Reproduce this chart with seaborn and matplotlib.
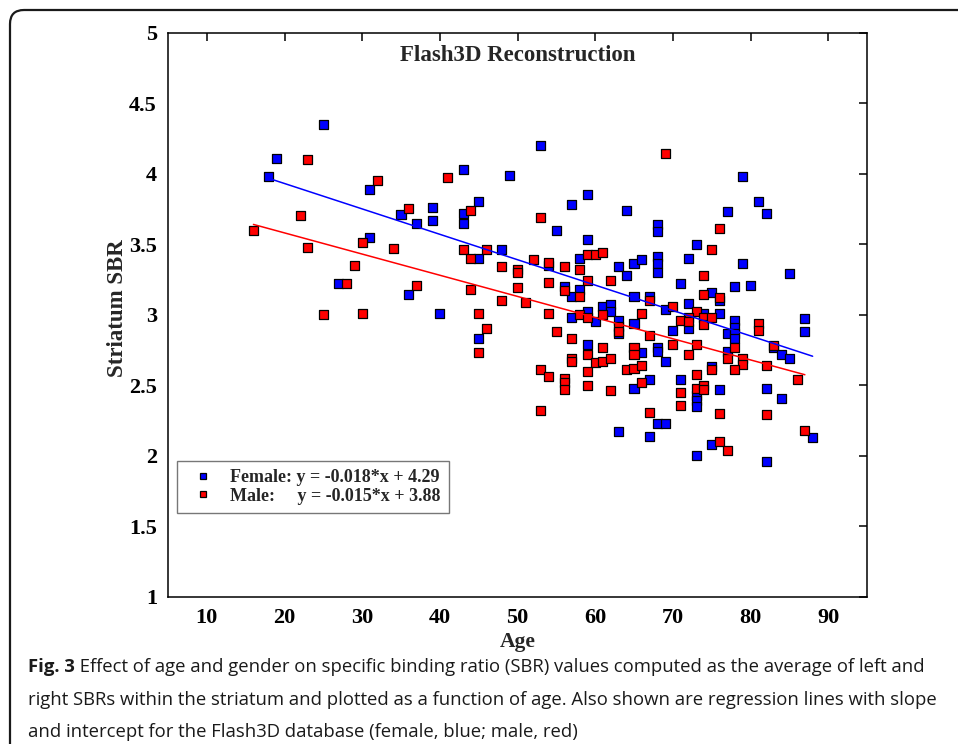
import matplotlib
matplotlib.use("Agg")
import matplotlib.pyplot as plt
from matplotlib.patches import FancyBboxPatch
from matplotlib.transforms import IdentityTransform
import seaborn as sns
import pandas as pd
import numpy as np

# datos (edad, SBR estriado)
female_age = [25, 19, 18, 31, 35, 37, 31, 27, 36,
              53, 43, 49, 59, 39, 45, 57, 64, 39, 43, 43, 55, 59, 48, 45, 54, 58, 63, 65, 64, 66,
              56, 58, 57, 65, 40, 57, 59, 60, 61, 62, 62, 63, 63, 65, 45, 59, 65, 63,
              79, 81, 77, 82, 68, 68, 73, 72, 68, 68, 68, 79, 71, 78, 80, 85, 67, 75, 76, 69, 72, 72,
              74, 76, 78, 78, 77, 78, 78, 87, 87, 70, 68, 68, 66, 69, 77, 83, 84, 85, 75, 67, 71,
              73, 73, 73, 76, 82, 84, 68, 69, 67, 88, 75, 73, 82]
female_sbr = [4.35, 4.11, 3.98, 3.89, 3.71, 3.65, 3.55, 3.22, 3.14,
              4.20, 4.03, 3.99, 3.85, 3.76, 3.80, 3.78, 3.74, 3.67, 3.72, 3.65, 3.60, 3.53, 3.46, 3.40, 3.35, 3.40, 3.34, 3.36, 3.28, 3.39,
              3.20, 3.18, 3.13, 3.13, 3.01, 2.98, 3.02, 2.95, 3.06, 3.07, 3.02, 2.96, 2.87, 2.94, 2.83, 2.79, 2.48, 2.17,
              3.98, 3.80, 3.73, 3.72, 3.64, 3.59, 3.50, 3.40, 3.41, 3.36, 3.30, 3.36, 3.22, 3.20, 3.21, 3.29, 3.13, 3.16, 3.10, 3.04, 3.08, 2.90,
              3.01, 3.01, 2.96, 2.91, 2.87, 2.87, 2.83, 2.97, 2.88, 2.89, 2.77, 2.74, 2.73, 2.67, 2.74, 2.77, 2.72, 2.69, 2.63, 2.54, 2.54,
              2.43, 2.39, 2.35, 2.47, 2.48, 2.41, 2.23, 2.23, 2.14, 2.13, 2.08, 2.00, 1.96]

male_age = [23, 32, 22, 36, 16, 30, 23, 34, 29, 28, 37, 25, 30,
            41, 44, 53, 43, 46, 44, 52, 54, 56, 58, 59, 60, 61, 48, 50, 50, 44, 50, 54, 59, 62, 56, 58,
            48, 51, 45, 54, 58, 59, 61, 63, 63, 46, 45, 55, 57, 61, 59, 57, 57, 60, 61, 62, 65, 65, 64, 65,
            53, 54, 56, 56, 56, 59, 59, 62, 53,
            69, 76, 75, 74, 67, 74, 76, 70, 66, 73, 72, 71, 72, 74, 74, 75, 81, 81, 67, 70, 73, 72, 78,
            77, 79, 79, 83, 82, 86, 75, 78, 66, 73, 66, 73, 74, 74, 71, 71, 67, 76, 82, 87, 76, 77]
male_sbr = [4.10, 3.95, 3.70, 3.75, 3.60, 3.51, 3.48, 3.47, 3.35, 3.22, 3.21, 3.00, 3.01,
            3.97, 3.74, 3.69, 3.46, 3.46, 3.40, 3.39, 3.37, 3.34, 3.32, 3.43, 3.43, 3.44, 3.34, 3.32, 3.30, 3.18, 3.19, 3.23, 3.24, 3.24, 3.17, 3.13,
            3.10, 3.09, 3.01, 3.01, 3.00, 2.98, 3.00, 2.92, 2.88, 2.90, 2.73, 2.88, 2.83, 2.77, 2.72, 2.69, 2.67, 2.66, 2.67, 2.69, 2.77, 2.72, 2.61, 2.62,
            2.61, 2.56, 2.55, 2.52, 2.47, 2.60, 2.50, 2.46, 2.32,
            4.14, 3.61, 3.46, 3.28, 3.10, 3.14, 3.12, 3.06, 3.01, 3.02, 2.98, 2.96, 2.95, 2.98, 2.93, 2.98, 2.94, 2.89, 2.85, 2.79, 2.79, 2.72, 2.77,
            2.69, 2.69, 2.65, 2.78, 2.64, 2.54, 2.61, 2.61, 2.64, 2.58, 2.52, 2.48, 2.50, 2.47, 2.45, 2.36, 2.31, 2.30, 2.29, 2.18, 2.10, 2.04]

# rectas de regresion (pendiente, intercepto)
female_fit = (-0.018, 4.29)
male_fit = (-0.015, 3.88)

x_ticks = [10, 20, 30, 40, 50, 60, 70, 80, 90]
y_ticks = [1, 1.5, 2, 2.5, 3, 3.5, 4, 4.5, 5]
y_tick_labels = ['1', '1.5', '2', '2.5', '3', '3.5', '4', '4.5', '5']

caption_bold = 'Fig. 3'
caption_lines = [
    ' Effect of age and gender on specific binding ratio (SBR) values computed as the average of left and',
    'right SBRs within the striatum and plotted as a function of age. Also shown are regression lines with slope',
    'and intercept for the Flash3D database (female, blue; male, red)',
]

df = pd.concat([
    pd.DataFrame({'Age': female_age, 'SBR': female_sbr, 'Gender': 'Female'}),
    pd.DataFrame({'Age': male_age, 'SBR': male_sbr, 'Gender': 'Male'}),
], ignore_index=True)

rows = []
for g, (m, b), ages in [('Female', female_fit, female_age), ('Male', male_fit, male_age)]:
    for a in (min(ages), max(ages)):
        rows.append({'Age': a, 'SBR': m * a + b, 'Gender': g})
df_fit = pd.DataFrame(rows)

sns.set_style('white')
plt.rcParams['font.family'] = ['Liberation Serif', 'DejaVu Serif']
plt.rcParams['font.weight'] = 'bold'

colores = {'Female': '#0000ff', 'Male': '#ff0000'}

fig = plt.figure(figsize=(9.58, 7.44), dpi=100)
ax = fig.add_axes([168 / 958, (744 - 597) / 744, (867 - 168) / 958, (597 - 32.5) / 744])

sns.scatterplot(data=df, x='Age', y='SBR', hue='Gender', palette=colores, marker='s',
                s=42, edgecolor='black', linewidth=0.9, ax=ax, zorder=3)
sns.lineplot(data=df_fit, x='Age', y='SBR', hue='Gender', palette=colores, linewidth=1.1,
             ax=ax, legend=False, zorder=4)

ax.set_xlim(5, 95)
ax.set_ylim(1, 5)
ax.set_xticks(x_ticks)
ax.set_yticks(y_ticks)
ax.set_yticklabels(y_tick_labels)
ax.tick_params(direction='in', top=True, right=True, length=6, width=1.1,
               labelsize=16, pad=8, colors='black')
for lab in ax.get_xticklabels() + ax.get_yticklabels():
    lab.set_fontweight('bold')
for sp in ax.spines.values():
    sp.set_linewidth(1.1)
    sp.set_color('black')

ax.set_xlabel('Age', fontsize=15.5, fontweight='bold', labelpad=3)
ax.set_ylabel('Striatum SBR', fontsize=16.5, fontweight='bold')
ax.yaxis.set_label_coords(-0.057, 0.511)
ax.set_title('Flash3D Reconstruction', fontsize=16.5, fontweight='bold', y=0.935)

handles, labels = ax.get_legend_handles_labels()
leg = ax.legend(handles, ['Female: y = -0.018*x + 4.29', 'Male:     y = -0.015*x + 3.88'],
                loc='lower left', bbox_to_anchor=(0.0125, 0.149), fontsize=13,
                frameon=True, fancybox=False, edgecolor='#555555', borderpad=0.45,
                labelspacing=0.1, handlelength=2.0, handletextpad=0.5, markerscale=0.75,
                borderaxespad=0)
leg.get_frame().set_linewidth(1.0)
for t in leg.get_texts():
    t.set_fontweight('bold')

# pie de figura: "Fig. 3" en negrita y el resto normal
x0 = 28 / 958
fs_cap = 13.3
t_bold = fig.text(x0, 1 - 667 / 744, caption_bold, fontsize=fs_cap, va='center', ha='left',
                  family='Open Sans', fontweight='bold', color='#1a1a1a')
renderer = fig.canvas.get_renderer()
bb = t_bold.get_window_extent(renderer=renderer)
x1 = bb.x1 / fig.bbox.width
fig.text(x1, 1 - 667 / 744, caption_lines[0], fontsize=fs_cap, va='center', ha='left',
         family='Open Sans', fontweight='normal', color='#1a1a1a')
fig.text(x0, 1 - 700 / 744, caption_lines[1], fontsize=fs_cap, va='center', ha='left',
         family='Open Sans', fontweight='normal', color='#1a1a1a')
fig.text(x0, 1 - 732 / 744, caption_lines[2], fontsize=fs_cap, va='center', ha='left',
         family='Open Sans', fontweight='normal', color='#1a1a1a')

marco = FancyBboxPatch((10, -40), 1000, 734 + 40, boxstyle='round,pad=0,rounding_size=14',
                       transform=IdentityTransform(), fill=False, edgecolor='#1a1a1a', linewidth=1.6)
fig.add_artist(marco)

fig.savefig('out.png', dpi=100)
